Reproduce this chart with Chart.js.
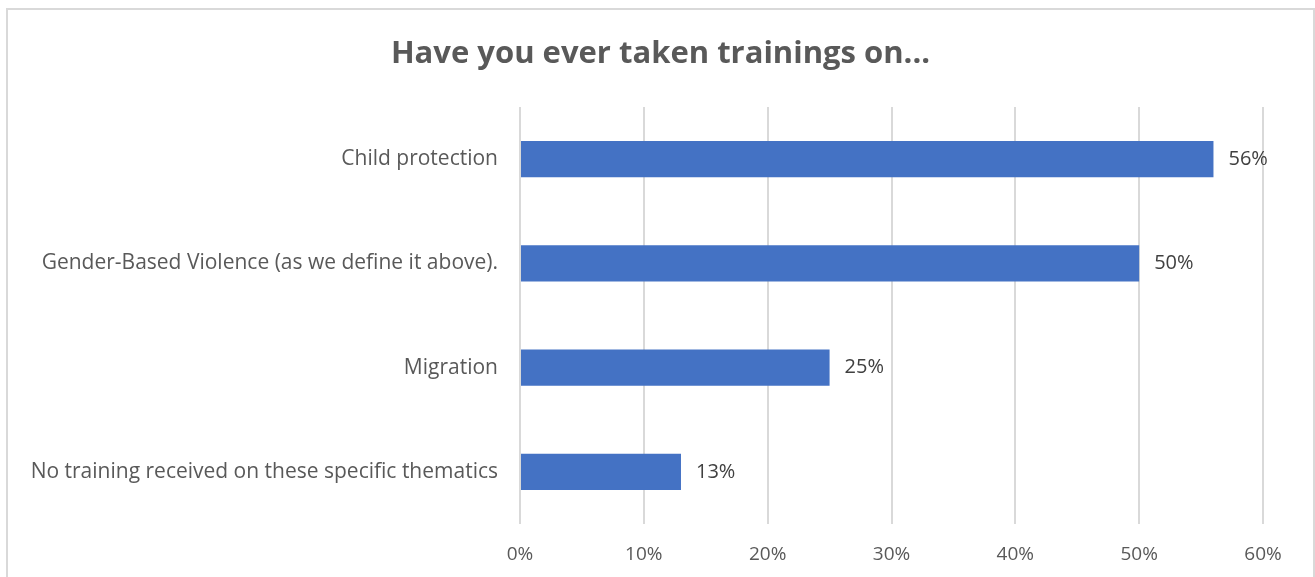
<!DOCTYPE html>
<html>
<head>
<meta charset="utf-8">
<script src="https://cdn.jsdelivr.net/npm/chart.js@4.4.1/dist/chart.umd.min.js"></script>
<style>
    html, body { margin: 0; padding: 0; background: #fff; overflow: hidden; }
    #frame {
        position: absolute;
        left: 6px;
        top: 8px;
        width: 1305px;
        height: 600px;
        border: 2px solid #d9d9d9;
        background: #fff;
    }
    #trainings-canvas { display: block; }
</style>
</head>
<body>
<div id="frame">
    <canvas id="trainings-canvas" width="1305" height="567"></canvas>
</div>
<script>
const categories = [
    "Child protection",
    "Gender-Based Violence (as we define it above).",
    "Migration",
    "No training received on these specific thematics"
]
const shares = [0.56, 0.50, 0.25, 0.13]
const tickValues = [0, 0.1, 0.2, 0.3, 0.4, 0.5, 0.6]
const chartTitle = "Have you ever taken trainings on..."

const fontFamily = "'Open Sans', 'Noto Sans', sans-serif"

// writes the percentage just past the end of each bar
const barValueLabels = {
    id: "barValueLabels",
    afterDatasetsDraw(chart) {
        const ctx = chart.ctx
        const meta = chart.getDatasetMeta(0)
        ctx.save()
        ctx.font = "20px " + fontFamily
        ctx.fillStyle = "#404040"
        ctx.textAlign = "left"
        ctx.textBaseline = "middle"
        meta.data.forEach((bar, i) => {
            const text = Math.round(shares[i] * 100) + "%"
            ctx.fillText(text, bar.x + 15, bar.y)
        })
        ctx.restore()
    }
}

// title centred on the whole canvas (the built-in one centres inside the layout padding)
const centredTitle = {
    id: "centredTitle",
    afterDraw(chart) {
        const ctx = chart.ctx
        ctx.save()
        ctx.font = "bold 31px " + fontFamily
        ctx.fillStyle = "#595959"
        ctx.textAlign = "center"
        ctx.textBaseline = "middle"
        ctx.fillText(chartTitle, chart.width / 2, 44)
        ctx.restore()
    }
}

const trainingsCanvas = document.querySelector("#trainings-canvas")

const trainingsChart = new Chart(trainingsCanvas, {
    type: "bar",
    data: {
        labels: categories,
        datasets: [{
            label: "Share",
            data: shares,
            backgroundColor: "#4472C4",
            borderWidth: 0,
            barPercentage: 0.35,
            categoryPercentage: 1
        }]
    },
    options: {
        indexAxis: "y",
        responsive: false,
        animation: false,
        layout: {
            padding: { left: 0, right: 50, top: 97, bottom: 0 }
        },
        plugins: {
            legend: { display: false },
            tooltip: { enabled: false },
            title: { display: false }
        },
        scales: {
            x: {
                min: 0,
                max: 0.6,
                afterBuildTicks(scale) {
                    scale.ticks = tickValues.map(v => ({ value: v }))
                },
                afterFit(scale) {
                    scale.height = 53
                },
                grid: {
                    color: "#d9d9d9",
                    lineWidth: 2,
                    drawTicks: false
                },
                border: { display: false },
                ticks: {
                    color: "#595959",
                    padding: 19,
                    font: { family: fontFamily, size: 19 },
                    callback: v => Math.round(v * 100) + "%"
                }
            },
            y: {
                afterFit(scale) {
                    scale.width = 512
                },
                grid: { display: false, drawTicks: false },
                border: { display: false },
                ticks: {
                    color: "#595959",
                    padding: 22,
                    font: { family: fontFamily, size: 21 }
                }
            }
        }
    },
    plugins: [barValueLabels, centredTitle]
})
</script>
</body>
</html>
